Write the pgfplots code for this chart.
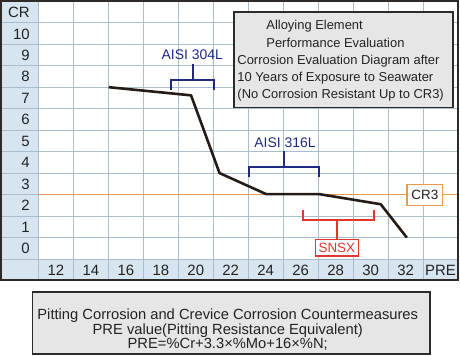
\documentclass[border=0pt]{standalone}
\usepackage{fontspec}
\setmainfont{Liberation Sans}
\usepackage{pgfplots}
\pgfplotsset{compat=1.18}
\definecolor{gridc}{HTML}{A9BDCC}
\definecolor{bandc}{HTML}{D6E5EF}
\definecolor{framec}{HTML}{2E2A27}
\definecolor{linec}{HTML}{241B16}
\definecolor{navy}{HTML}{1F2A85}
\definecolor{redc}{HTML}{E0362B}
\definecolor{orangec}{HTML}{E99A4C}
\definecolor{boxc}{HTML}{E6E6E6}
\definecolor{txt}{HTML}{222222}
\begin{document}
\begin{tikzpicture}
\path (-38bp,-96bp) rectangle (422bp,259bp);
% label bands
\fill[bandc] (-38bp,-22bp) rectangle (0,259bp);
\fill[bandc] (0,-22bp) rectangle (421bp,0);
\foreach \y in {0,21.5,43,64.5,86,107.5,129,150.5,172,193.5,215,236.5}
  \draw[gridc, line width=1bp] (-38bp,\y bp) -- (0,\y bp);
\foreach \x in {0,35,...,420}
  \draw[gridc, line width=1bp] (\x bp,-22bp) -- (\x bp,0);
\draw[gridc, line width=1bp] (0,-22bp) -- (0,259bp);
\begin{axis}[
  at={(0,0)}, anchor=south west,
  scale only axis, width=420bp, height=258bp,
  xmin=11, xmax=35, ymin=-0.5, ymax=11.5,
  xtick={12,14,...,34},
  xticklabels={12,14,16,18,20,22,24,26,28,30,32,PRE},
  ytick={0,...,11},
  yticklabels={0,1,2,3,4,5,6,7,8,9,10,CR},
  minor xtick={13,15,...,33},
  minor ytick={0.5,1.5,...,10.5},
  xminorgrids=true, yminorgrids=true,
  xmajorgrids=false, ymajorgrids=false,
  minor grid style={gridc, line width=1bp},
  major tick length=0pt, minor tick length=0pt,
  tick style={draw=none},
  axis line style={gridc, line width=1bp},
  tick label style={font=\fontsize{15}{15}\selectfont, text=txt, inner sep=0pt},
  xticklabel style={anchor=base, yshift=-16.5bp},
  yticklabel style={anchor=base east, xshift=-8.5bp, yshift=-5.3bp},
  clip=false,
]
% CR3 reference line
\addplot[orangec, line width=1.3bp] coordinates {(11,2.5) (35,2.5)};
% evaluation curve
\addplot[linec, line width=2.6bp, line join=round] coordinates {
  (15.02,7.51) (19.73,7.13) (21.36,3.51) (24.03,2.53)
  (27.07,2.53) (30.58,2.06) (32.07,0.51)};
% AISI 304L bracket
\draw[navy, line width=2bp] (18.6,7.36) -- (18.6,7.86) -- (21.02,7.86) -- (21.02,7.36);
\draw[navy, line width=2bp] (19.82,7.86) -- (19.82,8.6);
\node[navy, anchor=base, inner sep=0pt, font=\fontsize{14}{14}\selectfont] at (19.8,8.8) {AISI 304L};
% AISI 316L bracket
\draw[navy, line width=2bp] (23.06,3.33) -- (23.06,3.79) -- (27.07,3.79) -- (27.07,3.33);
\draw[navy, line width=2bp] (25.07,3.79) -- (25.07,4.54);
\node[navy, anchor=base, inner sep=0pt, font=\fontsize{14}{14}\selectfont] at (25.1,4.72) {AISI 316L};
% SNSX bracket
\draw[redc, line width=2bp] (26.13,1.78) -- (26.13,1.31) -- (30.22,1.31) -- (30.22,1.78);
\draw[redc, line width=2bp] (28.07,1.31) -- (28.07,0.42);
\node[draw=redc, fill=white, text=redc, line width=1.4bp, minimum width=43bp, minimum height=16.7bp, inner sep=0pt, font=\fontsize{13.5}{13.5}\selectfont] at (28.07,0.03) {SNSX};
% CR3 label
\node[draw=orangec, fill=white, text=txt, line width=1.4bp, minimum width=36bp, minimum height=20.7bp, inner sep=0pt, font=\fontsize{13.5}{13.5}\selectfont] at (33.1,2.49) {CR3};
\end{axis}
% info box
\draw[framec, fill=boxc, line width=1.5bp] (196bp,152bp) rectangle (415bp,247.3bp);
\begin{scope}[every node/.style={anchor=base west, inner sep=0pt, text=txt, font=\fontsize{13}{13}\selectfont}]
\node at (228bp,229.7bp) {Alloying Element};
\node at (228bp,212bp) {Performance Evaluation};
\node at (199bp,194.5bp) {Corrosion Evaluation Diagram after};
\node at (199bp,177.5bp) {10 Years of Exposure to Seawater};
\node at (199bp,161bp) {(No Corrosion Resistant Up to CR3)};
\end{scope}
% outer frame
\draw[framec, line width=2bp] (-37bp,-21bp) rectangle (420bp,258bp);
% bottom box
\draw[framec, fill=boxc, line width=1.3bp] (-6.3bp,-32.7bp) rectangle (392bp,-95bp);
\begin{scope}[every node/.style={anchor=base, inner sep=0pt, text=txt, font=\fontsize{14.8}{14.8}\selectfont}]
\node at (189.5bp,-60bp) {Pitting Corrosion and Crevice Corrosion Countermeasures};
\node at (189.5bp,-75.3bp) {PRE value(Pitting Resistance Equivalent)};
\node at (189.5bp,-89.3bp) {PRE=\%Cr+3.3×\%Mo+16×\%N;};
\end{scope}
\end{tikzpicture}
\end{document}
